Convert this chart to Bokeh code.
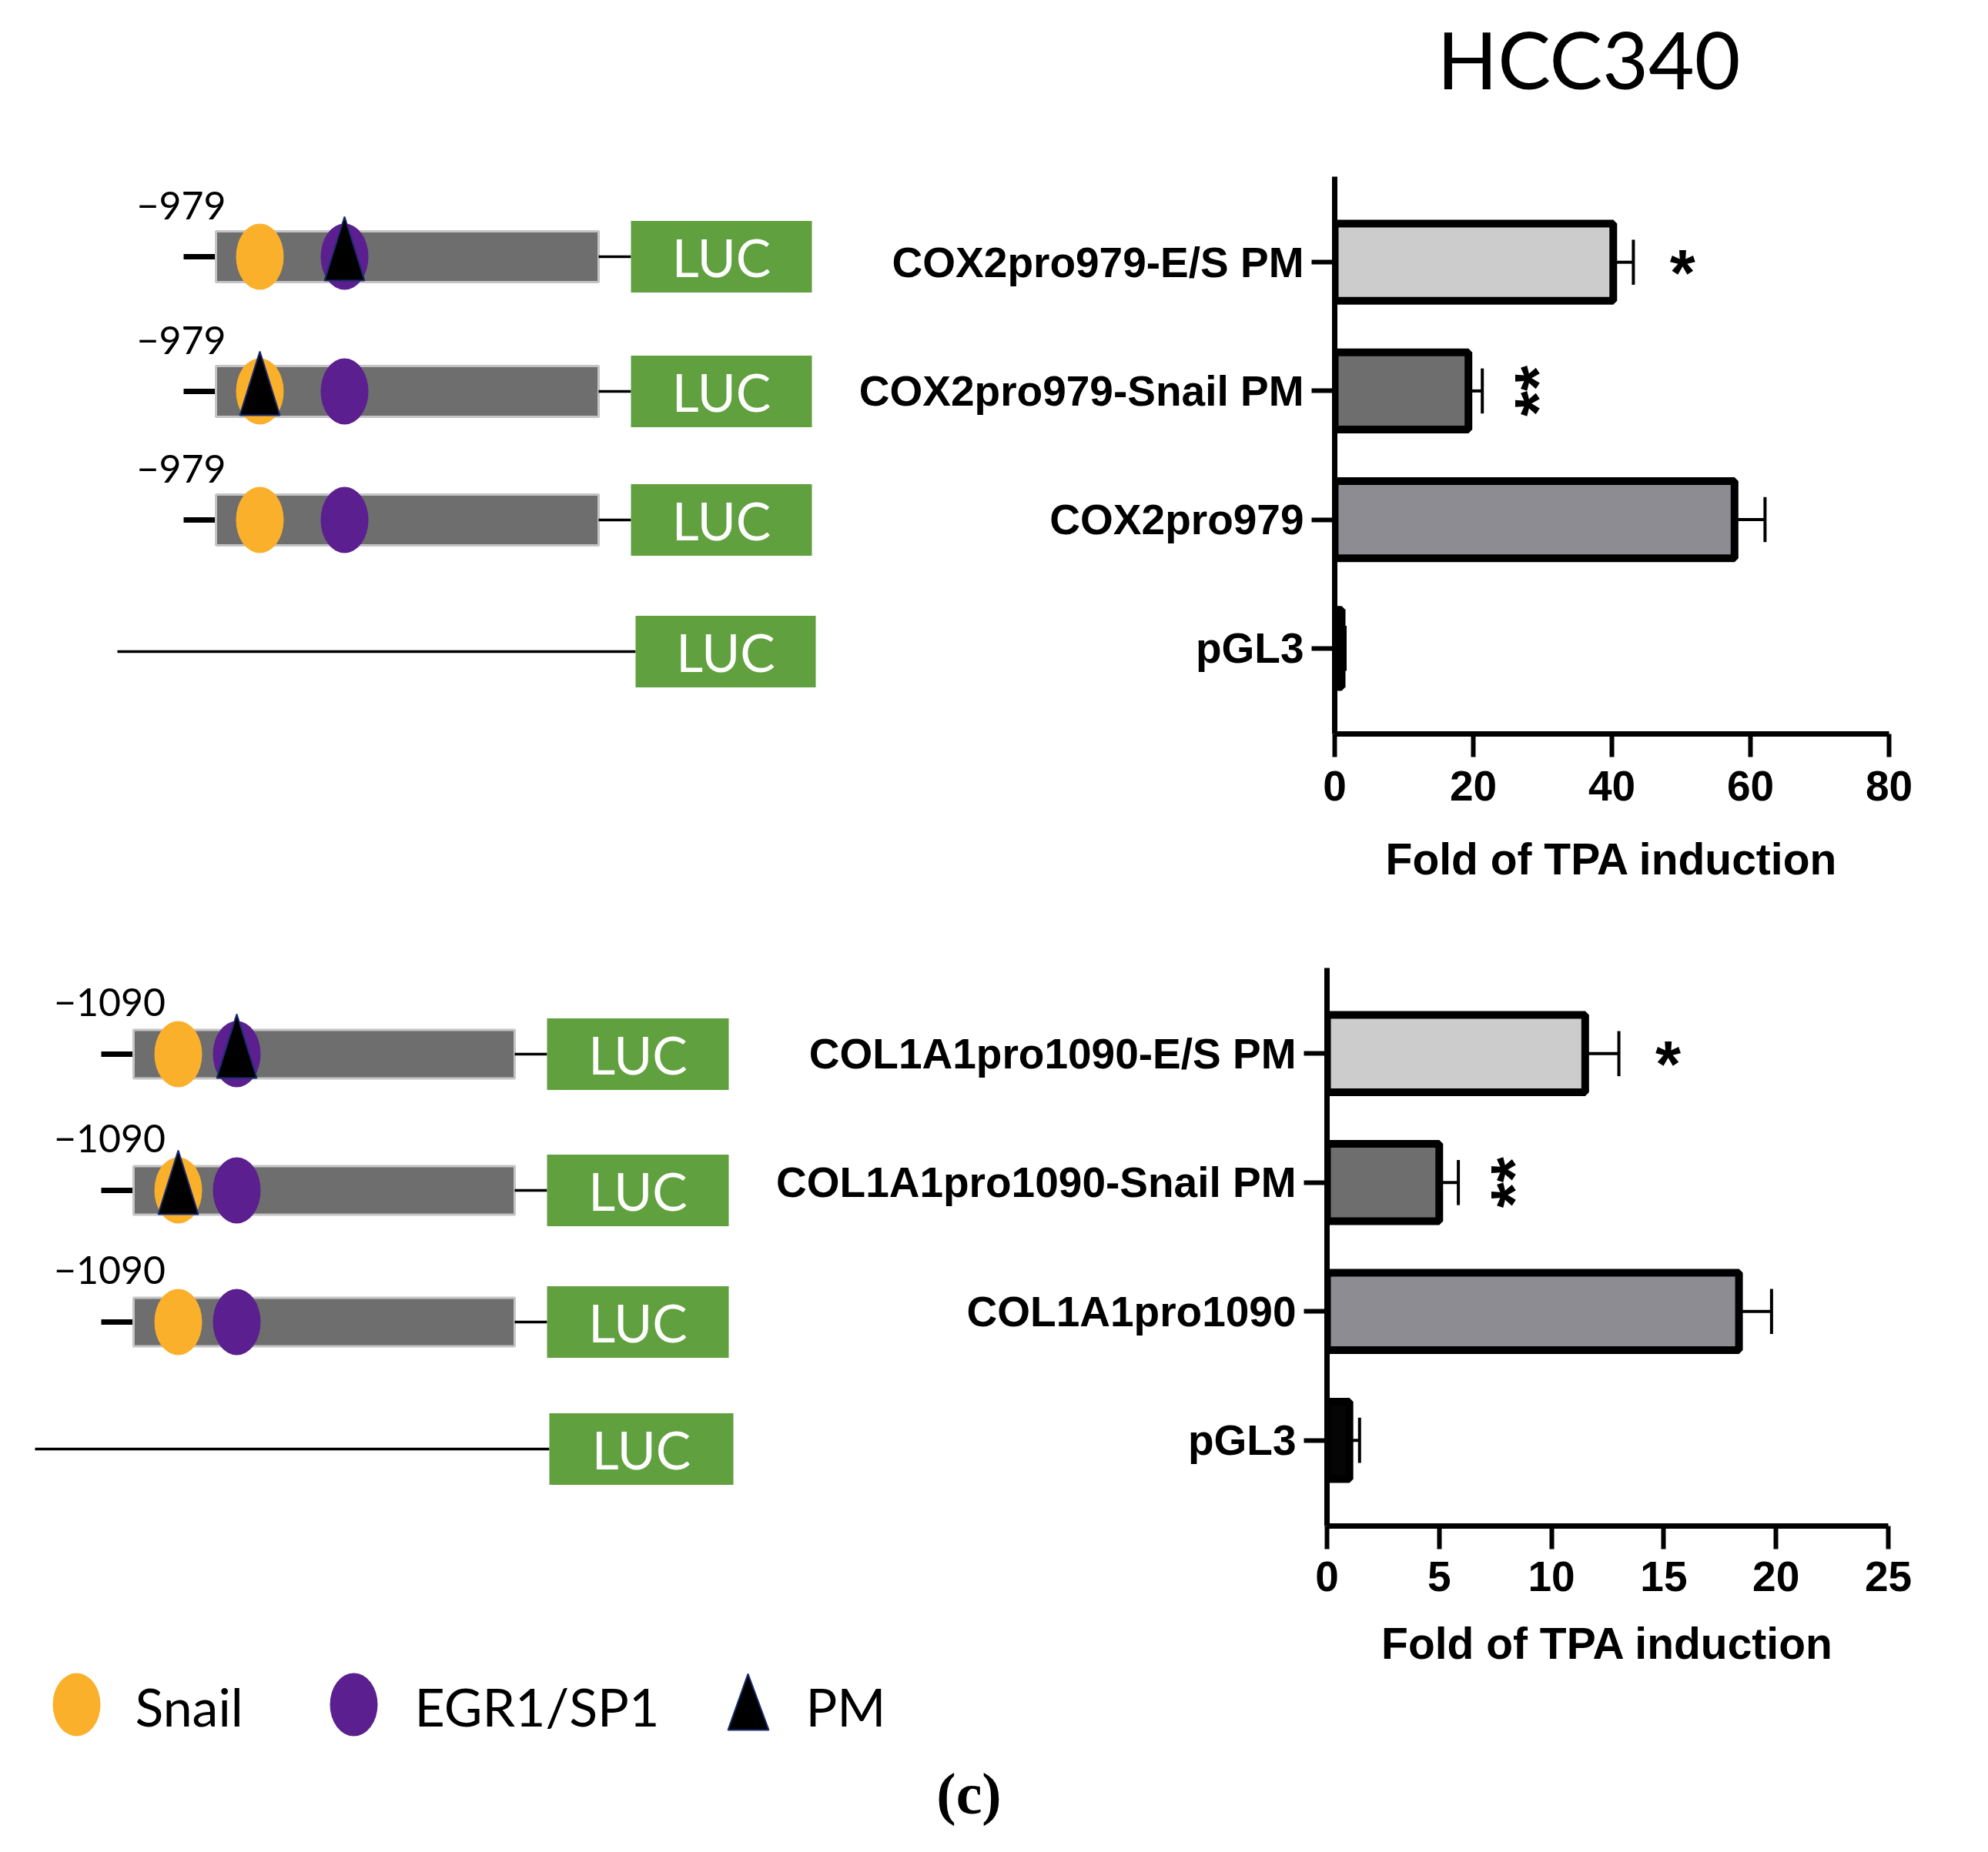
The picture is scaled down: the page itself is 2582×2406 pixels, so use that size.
import math
from bokeh.plotting import figure
from bokeh.models import Range1d, FactorRange, FixedTicker, ColumnDataSource
from bokeh.transform import dodge
from bokeh.layouts import column, row
from bokeh.core.properties import value
from bokeh.embed import file_html
from bokeh.resources import INLINE

# ---------------- data ----------------
TITLE = "HCC340"
AXIS_LABEL = "Fold of TPA induction"

cox_categories = ["pGL3", "COX2pro979", "COX2pro979-Snail PM", "COX2pro979-E/S PM"]
cox_values = [1.0, 57.7, 19.3, 40.2]
cox_err_upper = [1.5, 62.1, 21.3, 43.1]
cox_marks = ["", "", "**", "*"]
cox_ticks = [0, 20, 40, 60, 80]

col_categories = ["pGL3", "COL1A1pro1090", "COL1A1pro1090-Snail PM", "COL1A1pro1090-E/S PM"]
col_values = [1.0, 18.35, 5.0, 11.5]
col_err_upper = [1.45, 19.8, 5.85, 13.0]
col_marks = ["", "", "**", "*"]
col_ticks = [0, 5, 10, 15, 20, 25]

bar_fill = ["#050505", "#8E8C93", "#6E6E6E", "#CCCCCC"]

# schematic content (rows top to bottom: E/S PM, Snail PM, wild type, then pGL3)
cox_start_label = "\u2212979"
col_start_label = "\u22121090"
construct_pm = ["EGR1/SP1", "Snail", None]
legend_items = ["Snail", "EGR1/SP1", "PM"]
site_colors = {"Snail": "#FBB02B", "EGR1/SP1": "#5B1F8F"}
LUC = "LUC"
PANEL = "(c)"

LUC_GREEN = "#60A03E"
CHART_FONT = value("Liberation Sans")
DIAG_FONT = value("Lato")


# ---------------- helpers ----------------
def canvas(x0, x1, y0, y1, ft=None, fb=None):
    ft = y0 if ft is None else ft
    fb = y1 if fb is None else fb
    p = figure(width=x1 - x0, height=y1 - y0,
               x_range=Range1d(x0, x1), y_range=Range1d(fb, ft),
               output_backend="svg", toolbar_location=None,
               x_axis_location=None, y_axis_location=None,
               min_border_left=0, min_border_right=0,
               min_border_top=ft - y0, min_border_bottom=y1 - fb, title=None)
    p.grid.visible = False
    p.outline_line_color = None
    p.background_fill_color = "white"
    p.border_fill_color = "white"
    return p


def draw_schematic(p, rows_y, pm_sites, start_label, g, pgl3_y):
    n = len(rows_y)
    ys = list(rows_y)
    p.text(x=[g["label_x"]] * n, y=[y - g["label_dy"] for y in ys], text=[start_label] * n,
           text_font=DIAG_FONT, text_font_size="50px", text_align="center",
           text_baseline="middle", text_color="black")
    p.segment(x0=[g["stub0"]] * n, x1=[g["bar0"]] * n, y0=ys, y1=ys,
              line_width=7, line_color="black")
    p.quad(left=[g["bar0"]] * n, right=[g["bar1"]] * n,
           top=[y - g["bar_h"] / 2 for y in ys], bottom=[y + g["bar_h"] / 2 for y in ys],
           fill_color="#6E6E6E", line_color="#C4C4C4", line_width=3)
    p.segment(x0=[g["bar1"]] * n, x1=[g["luc0"]] * n, y0=ys, y1=ys,
              line_width=3.5, line_color="black")
    for name, sx in (("Snail", g["snail_x"]), ("EGR1/SP1", g["egr_x"])):
        p.ellipse(x=[sx] * n, y=ys, width=62, height=86,
                  fill_color=site_colors[name], line_color=None)
    txs, tys = [], []
    for y, s in zip(ys, pm_sites):
        if s is None:
            continue
        sx = g["snail_x"] if s == "Snail" else g["egr_x"]
        txs.append([sx - 26, sx, sx + 26])
        tys.append([y + 31, y - 52, y + 31])
    p.patches(xs=txs, ys=tys, fill_color="black", line_color="#1C2C6E", line_width=2)
    # empty vector line + LUC boxes
    p.segment(x0=[g["line0"]], x1=[g["pluc0"]], y0=[pgl3_y], y1=[pgl3_y],
              line_width=3.5, line_color="black")
    all_y = ys + [pgl3_y]
    l0 = [g["luc0"]] * n + [g["pluc0"]]
    l1 = [g["luc1"]] * n + [g["pluc1"]]
    p.quad(left=l0, right=l1, top=[y - 46.5 for y in all_y], bottom=[y + 46.5 for y in all_y],
           fill_color=LUC_GREEN, line_color=None)
    p.text(x=[(a + b) / 2 for a, b in zip(l0, l1)], y=all_y,
           text=[LUC] * (n + 1), text_font=DIAG_FONT, text_font_size="68px",
           text_align="center", text_baseline="middle", text_color="white")


def bar_chart(cats, vals, errs, marks, ticks, x0, x1, y0, y1, fl, fr, ft, fb,
              tick_standoff, label_standoff):
    p = figure(width=x1 - x0, height=y1 - y0,
               x_range=Range1d(ticks[0], ticks[-1]),
               y_range=FactorRange(factors=cats, range_padding=0.165,
                                   range_padding_units="absolute"),
               output_backend="svg", toolbar_location=None, title=None,
               min_border_left=fl - x0, min_border_right=x1 - fr,
               min_border_top=ft - y0, min_border_bottom=y1 - fb)
    p.grid.visible = False
    p.outline_line_color = None
    p.background_fill_color = "white"
    p.border_fill_color = "white"

    src = ColumnDataSource(dict(cat=cats, val=vals, err=errs, color=bar_fill))
    p.hbar(y="cat", left=0, right="val", height=0.6, fill_color="color",
           line_color="black", line_width=10, source=src)
    p.segment(x0="val", y0="cat", x1="err", y1="cat", line_color="black",
              line_width=4, source=src)
    p.segment(x0="err", y0=dodge("cat", -0.175, range=p.y_range),
              x1="err", y1=dodge("cat", 0.175, range=p.y_range),
              line_color="black", line_width=4, source=src)

    sel = [i for i, m in enumerate(marks) if m]
    ssrc = ColumnDataSource(dict(
        cat=[cats[i] for i in sel], err=[errs[i] for i in sel],
        mark=[marks[i] for i in sel],
        angle=[math.pi / 2 if len(marks[i]) > 1 else 0.0 for i in sel],
        xo=[72 if len(marks[i]) > 1 else 64 for i in sel],
        yo=[0 if len(marks[i]) > 1 else 14 for i in sel]))
    p.text(x="err", y="cat", text="mark", angle="angle", x_offset="xo", y_offset="yo",
           text_font=CHART_FONT, text_font_style="bold", text_font_size="85px",
           text_align="center", text_baseline="middle", text_color="black", source=ssrc)

    for ax in (p.xaxis[0], p.yaxis[0]):
        ax.axis_line_width = 7
        ax.axis_line_color = "black"
        ax.major_tick_line_width = 6
        ax.major_tick_line_color = "black"
        ax.major_tick_out = 30
        ax.major_tick_in = 0
        ax.minor_tick_line_color = None
        ax.major_label_text_font = "Liberation Sans"
        ax.major_label_text_font_style = "bold"
        ax.major_label_text_font_size = "55px"
        ax.major_label_text_color = "black"
    p.xaxis.ticker = FixedTicker(ticks=ticks)
    p.xaxis.major_label_standoff = tick_standoff
    p.yaxis.major_label_standoff = 10
    p.xaxis.axis_label = AXIS_LABEL
    p.xaxis.axis_label_text_font = "Liberation Sans"
    p.xaxis.axis_label_text_font_style = "bold"
    p.xaxis.axis_label_text_font_size = "57px"
    p.xaxis.axis_label_text_color = "black"
    p.xaxis.axis_label_standoff = label_standoff
    return p


# ---------------- title ----------------
title_fig = canvas(8, 2574, 8, 200)
title_fig.text(x=[2071], y=[83], text=[TITLE], text_font=DIAG_FONT, text_font_size="103px",
               text_align="center", text_baseline="middle", text_color="black")

# ---------------- row A (COX2) ----------------
A_FRAME = (1737, 2461, 237, 961)
leftA = canvas(8, 1120, 200, 1180, ft=A_FRAME[2], fb=A_FRAME[3])
gA = dict(label_x=243, label_dy=67, stub0=246, bar0=288, bar1=785, bar_h=66,
          snail_x=345, egr_x=455, luc0=827, luc1=1062, line0=160, pluc0=833, pluc1=1067)
draw_schematic(leftA, [341, 516, 683], construct_pm, cox_start_label, gA, 854)

rightA = bar_chart(cox_categories, cox_values, cox_err_upper, cox_marks, cox_ticks,
                   1120, 2574, 200, 1180, *A_FRAME, 18, 41)

# ---------------- row B (COL1A1) ----------------
B_FRAME = (1731, 2460, 1265, 1990)
leftB = canvas(8, 990, 1180, 2180, ft=B_FRAME[2], fb=B_FRAME[3])
gB = dict(label_x=150, label_dy=68, stub0=139, bar0=181, bar1=676, bar_h=63,
          snail_x=239, egr_x=315, luc0=718, luc1=954, line0=53, pluc0=721, pluc1=960)
draw_schematic(leftB, [1377, 1554, 1725], construct_pm, col_start_label, gB, 1890)

rightB = bar_chart(col_categories, col_values, col_err_upper, col_marks, col_ticks,
                   990, 2574, 1180, 2180, *B_FRAME, 16, 33)

# ---------------- legend row ----------------
leg = canvas(8, 2574, 2180, 2398)
ly = 2222
leg.ellipse(x=[107, 467], y=[ly, ly], width=62, height=82,
            fill_color=[site_colors["Snail"], site_colors["EGR1/SP1"]], line_color=None)
leg.patches(xs=[[953, 979, 1006]], ys=[[ly + 33, ly - 40, ly + 33]],
            fill_color="black", line_color="#1C2C6E", line_width=2)
leg.text(x=[183, 546, 1054], y=[ly + 2] * 3, text=legend_items, text_font=DIAG_FONT,
         text_font_size="68px", text_align="left", text_baseline="middle",
         text_color="black")
leg.text(x=[1266], y=[2337], text=[PANEL], text_font=value("Liberation Serif"),
         text_font_style="bold", text_font_size="76px", text_align="center",
         text_baseline="middle", text_color="black")

layout = column(title_fig, row(leftA, rightA), row(leftB, rightB), leg)

open("out.html", "w").write(file_html(layout, INLINE))
